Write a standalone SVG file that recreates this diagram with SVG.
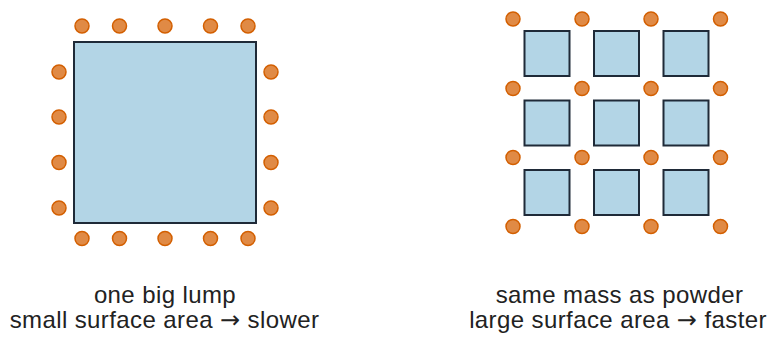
<svg xmlns="http://www.w3.org/2000/svg" width="770" height="342" viewBox="0 0 770 342">
<defs>
<style>
.lump{fill:#b3d5e6;stroke:#1f2a38;stroke-width:2}
.p{fill:#e08a45;stroke:#d35f00;stroke-width:1.5}
.lbl{font-family:"Liberation Sans",Arial,sans-serif;font-size:24px;letter-spacing:0.4px;fill:#222;text-anchor:middle}
.ar{font-family:"DejaVu Sans",sans-serif}
</style>
</defs>
<rect width="770" height="342" fill="#fff"/>
<g id="big-lump">
<rect class="lump" x="74" y="42" width="182" height="181"/>
</g>
<g id="big-lump-particles">
<circle class="p" cx="82" cy="26" r="7"/>
<circle class="p" cx="119.5" cy="26" r="7"/>
<circle class="p" cx="165" cy="26" r="7"/>
<circle class="p" cx="210.5" cy="26" r="7"/>
<circle class="p" cx="248" cy="26" r="7"/>
<circle class="p" cx="82" cy="238.5" r="7"/>
<circle class="p" cx="119.5" cy="238.5" r="7"/>
<circle class="p" cx="165" cy="238.5" r="7"/>
<circle class="p" cx="210.5" cy="238.5" r="7"/>
<circle class="p" cx="248" cy="238.5" r="7"/>
<circle class="p" cx="59" cy="72" r="7"/>
<circle class="p" cx="59" cy="117" r="7"/>
<circle class="p" cx="59" cy="162.5" r="7"/>
<circle class="p" cx="59" cy="208" r="7"/>
<circle class="p" cx="271" cy="72" r="7"/>
<circle class="p" cx="271" cy="117" r="7"/>
<circle class="p" cx="271" cy="162.5" r="7"/>
<circle class="p" cx="271" cy="208" r="7"/>
</g>
<g id="powder">
<rect class="lump" x="524.5" y="31" width="45" height="45"/>
<rect class="lump" x="594" y="31" width="45" height="45"/>
<rect class="lump" x="663.5" y="31" width="45" height="45"/>
<rect class="lump" x="524.5" y="100.5" width="45" height="45"/>
<rect class="lump" x="594" y="100.5" width="45" height="45"/>
<rect class="lump" x="663.5" y="100.5" width="45" height="45"/>
<rect class="lump" x="524.5" y="170" width="45" height="45"/>
<rect class="lump" x="594" y="170" width="45" height="45"/>
<rect class="lump" x="663.5" y="170" width="45" height="45"/>
</g>
<g id="powder-particles">
<circle class="p" cx="513" cy="19" r="7"/>
<circle class="p" cx="582" cy="19" r="7"/>
<circle class="p" cx="651" cy="19" r="7"/>
<circle class="p" cx="720.5" cy="19" r="7"/>
<circle class="p" cx="513" cy="88.5" r="7"/>
<circle class="p" cx="582" cy="88.5" r="7"/>
<circle class="p" cx="651" cy="88.5" r="7"/>
<circle class="p" cx="720.5" cy="88.5" r="7"/>
<circle class="p" cx="513" cy="157.5" r="7"/>
<circle class="p" cx="582" cy="157.5" r="7"/>
<circle class="p" cx="651" cy="157.5" r="7"/>
<circle class="p" cx="720.5" cy="157.5" r="7"/>
<circle class="p" cx="513" cy="226.5" r="7"/>
<circle class="p" cx="582" cy="226.5" r="7"/>
<circle class="p" cx="651" cy="226.5" r="7"/>
<circle class="p" cx="720.5" cy="226.5" r="7"/>
</g>
<g id="labels">
<text class="lbl" x="165" y="303">one big lump</text>
<text class="lbl" x="164.5" y="328">small surface area <tspan class="ar">→</tspan> slower</text>
<text class="lbl" x="619.5" y="303">same mass as powder</text>
<text class="lbl" x="618" y="328">large surface area <tspan class="ar">→</tspan> faster</text>
</g>
</svg>
